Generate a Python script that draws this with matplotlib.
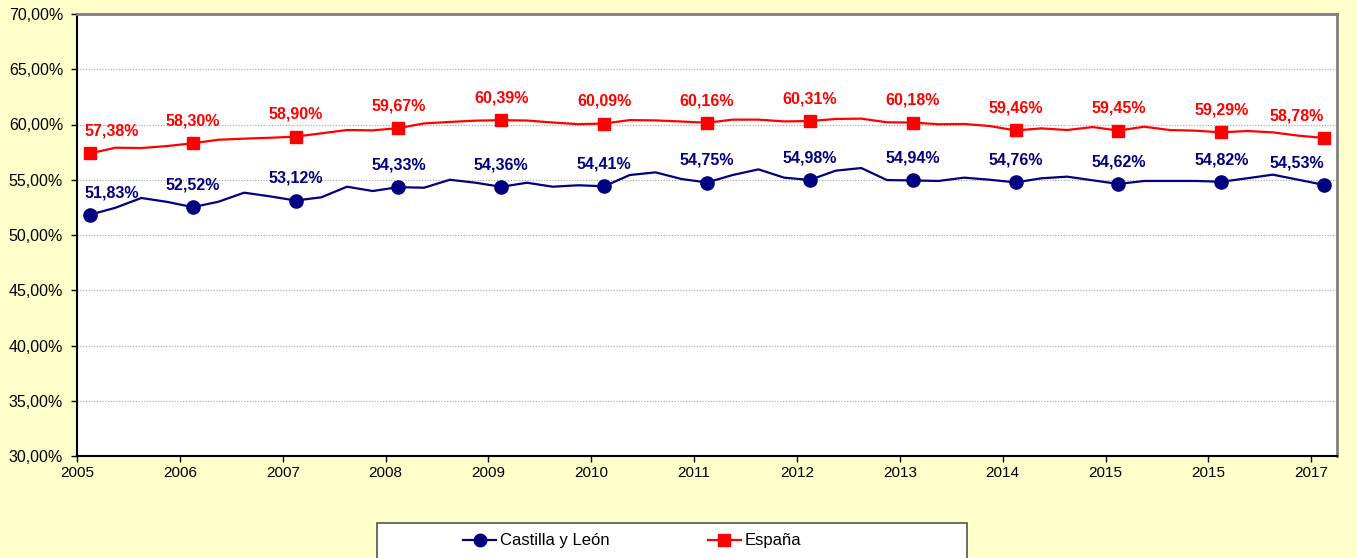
import matplotlib
matplotlib.use("Agg")
import matplotlib.pyplot as plt
from matplotlib.lines import Line2D
from matplotlib.patches import Rectangle

plt.rcParams['font.family'] = ['Liberation Sans', 'DejaVu Sans']

year_labels = ["2005", "2006", "2007", "2008", "2009", "2010", "2011",
               "2012", "2013", "2014", "2015", "2015", "2017"]

castilla = [51.83, 52.47, 53.35, 53.00, 52.52, 53.01, 53.83, 53.50,
            53.12, 53.41, 54.37, 53.98, 54.33, 54.28, 55.00, 54.73,
            54.36, 54.73, 54.37, 54.50, 54.41, 55.43, 55.67, 55.07,
            54.75, 55.43, 55.94, 55.19, 54.98, 55.82, 56.06, 54.97,
            54.94, 54.89, 55.19, 55.00, 54.76, 55.13, 55.28, 54.95,
            54.62, 54.89, 54.89, 54.89, 54.82, 55.13, 55.46, 55.00,
            54.53]

espana = [57.38, 57.90, 57.87, 58.05, 58.30, 58.62, 58.72, 58.80,
          58.90, 59.20, 59.50, 59.47, 59.67, 60.10, 60.23, 60.35,
          60.39, 60.36, 60.18, 60.03, 60.09, 60.40, 60.37, 60.27,
          60.16, 60.44, 60.44, 60.28, 60.31, 60.50, 60.53, 60.20,
          60.18, 60.02, 60.05, 59.86, 59.46, 59.65, 59.50, 59.77,
          59.45, 59.80, 59.50, 59.44, 59.29, 59.41, 59.29, 58.99,
          58.78]

series_names = ["Castilla y León", "España"]

BLUE = "#000080"
RED = "#FF0000"
BG = "#FFFFCC"

fig = plt.figure(figsize=(13.57, 5.58), dpi=100, facecolor=BG)
ax = fig.add_axes([77/1357, 1-456/558, (1337-77)/1357, (456-14)/558])
ax.set_facecolor("white")

n = len(castilla)
xs = list(range(n))

ax.plot(xs, castilla, color=BLUE, lw=1.6, marker='o', markersize=9.5,
        markevery=4, markerfacecolor=BLUE, markeredgecolor=BLUE, zorder=3)
ax.plot(xs, espana, color=RED, lw=1.6, marker='s', markersize=8.5,
        markevery=4, markerfacecolor=RED, markeredgecolor=RED, zorder=3)

ax.set_xlim(-0.5, n - 0.5)
ax.set_ylim(30, 70)

# labels at marker points
for i in range(0, n, 4):
    for vals, col in ((castilla, BLUE), (espana, RED)):
        txt = f"{vals[i]:.2f}%".replace(".", ",")
        if i == 0:
            ha, dx = 'left', -4
        elif i == n - 1:
            ha, dx = 'right', 0
        else:
            ha, dx = 'center', 0
        ax.annotate(txt, (xs[i], vals[i]), xytext=(dx, 16), textcoords='offset points',
                    ha=ha, va='center', color=col, fontsize=11.5, fontweight='bold',
                    zorder=4)

# y axis
yt = list(range(30, 71, 5))
ax.set_yticks(yt)
ax.set_yticklabels([f"{v:.2f}%".replace(".", ",") for v in yt], fontsize=11.5)
ax.yaxis.grid(True, color="#A0A0A0", linestyle=(0, (1, 1.5)), lw=0.8)
ax.set_axisbelow(True)

# x axis ticks between categories
xt = [i - 0.5 for i in range(0, n, 4)]
ax.set_xticks(xt)
ax.set_xticklabels(year_labels, fontsize=11)
ax.tick_params(axis='both', direction='out', length=4, width=1, color='black', pad=3)
ax.tick_params(axis='y', pad=6)

for s in ('left', 'bottom'):
    ax.spines[s].set_color('black')
    ax.spines[s].set_linewidth(1.5)
for s in ('top', 'right'):
    ax.spines[s].set_color('#808080')
    ax.spines[s].set_linewidth(2)

# legend box
fig.patches.append(Rectangle((377/1357, 1-570/558), (967-377)/1357, (570-523)/558,
                             transform=fig.transFigure, facecolor='white',
                             edgecolor='#555555', lw=1.2, zorder=1))
handles = [Line2D([], [], color=BLUE, lw=1.6, marker='o', markersize=9),
           Line2D([], [], color=RED, lw=1.6, marker='s', markersize=8)]
leg = fig.legend(handles, series_names, loc='center', bbox_to_anchor=(632/1357, 1-541/558),
                 ncol=2, frameon=False, fontsize=12, handlelength=2.0,
                 handletextpad=0.2, columnspacing=5.9)
leg.set_zorder(5)

fig.savefig("out.png", dpi=100, facecolor=BG)
